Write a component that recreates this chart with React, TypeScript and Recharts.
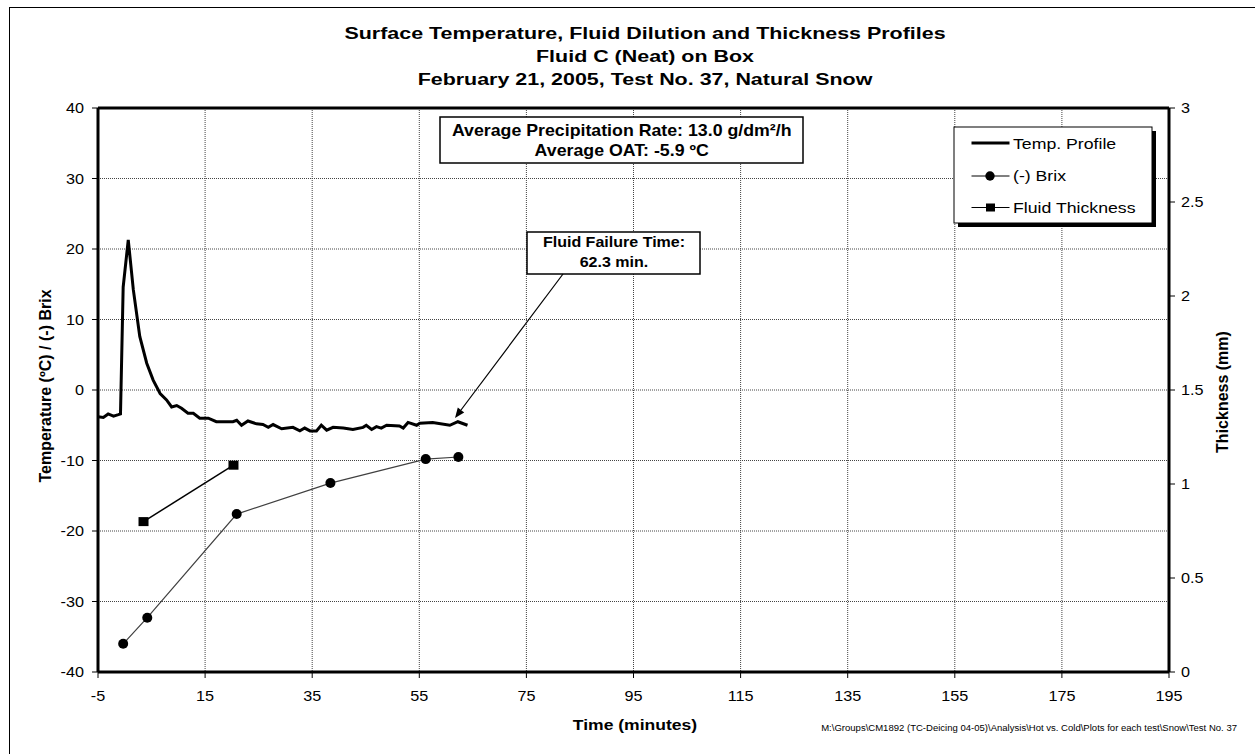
import React from "react";
import {
  ComposedChart,
  Line,
  XAxis,
  YAxis,
  CartesianGrid,
  ReferenceLine,
} from "recharts";

// ---- Data ----
const tempTimes = [
  -5, -4, -3.1, -2.1, -1.2, -0.8, -0.3, 0.65, 1.6, 2.8, 4.1, 5.3, 6.6, 7.8, 8.75,
  9.7, 10.6, 11.8, 12.8, 14.0, 15.6, 17.1, 20.2, 20.9, 21.8, 23.0, 24.6, 25.8,
  26.8, 27.7, 29.3, 31.4, 32.7, 33.6, 34.6, 35.8, 36.7, 37.7, 38.9, 40.8, 42.6,
  44.5, 45.1, 46.1, 47.0, 47.9, 48.9, 51.3, 52.0, 52.9, 54.5, 55.1, 57.5, 60.7,
  62.2, 64.0,
];
const tempValues = [
  -3.8, -3.9, -3.4, -3.7, -3.5, -3.4, 14.6, 21.3, 14.2, 7.6, 3.8, 1.4, -0.5, -1.4,
  -2.4, -2.2, -2.6, -3.3, -3.3, -4.0, -4.0, -4.5, -4.5, -4.3, -5.0, -4.4, -4.8,
  -4.9, -5.3, -4.9, -5.5, -5.3, -5.8, -5.4, -5.8, -5.8, -5.0, -5.7, -5.3, -5.4,
  -5.6, -5.3, -5.0, -5.6, -5.2, -5.4, -5.0, -5.1, -5.4, -4.6, -5.0, -4.7, -4.6,
  -5.0, -4.5, -5.0,
];

const brixTimes = [-0.3, 4.2, 20.9, 38.4, 56.2, 62.3];
const brixValues = [-36.0, -32.3, -17.6, -13.2, -9.8, -9.5];

const thickTimes = [3.5, 20.3];
const thickValues = [0.8, 1.1];

const xTicks = [-5, 15, 35, 55, 75, 95, 115, 135, 155, 175, 195];
const leftTicks = [-40, -30, -20, -10, 0, 10, 20, 30, 40];
const rightTicks = [0, 0.5, 1, 1.5, 2, 2.5, 3];

const titleLines = [
  "Surface Temperature, Fluid Dilution and Thickness Profiles",
  "Fluid C (Neat) on Box",
  "February 21, 2005, Test No. 37, Natural Snow",
];
const precipLines = ["Average Precipitation Rate: 13.0 g/dm²/h", "Average OAT: -5.9 ºC"];
const failureLines = ["Fluid Failure Time:", "62.3 min."];
const legendLabels = ["Temp. Profile", "(-) Brix", "Fluid Thickness"];
const footerText =
  "M:\\Groups\\CM1892 (TC-Deicing 04-05)\\Analysis\\Hot vs. Cold\\Plots for each test\\Snow\\Test No. 37";

const tempData = tempTimes.map((t, i) => ({ t, v: tempValues[i] }));
const brixData = brixTimes.map((t, i) => ({ t, v: brixValues[i] }));
const thickData = thickTimes.map((t, i) => ({ t, v: thickValues[i] }));

const FONT = "'Liberation Sans', Arial, Helvetica, sans-serif";

type STextProps = {
  x: number;
  y: number;
  sx?: number;
  size: number;
  bold?: boolean;
  anchor?: "start" | "middle" | "end";
  children: React.ReactNode;
};
const SText = ({ x, y, sx = 1, size, bold, anchor = "start", children }: STextProps) => (
  <text
    transform={`translate(${x},${y}) scale(${sx},1)`}
    textAnchor={anchor}
    fontSize={size}
    fontWeight={bold ? "bold" : "normal"}
    fontFamily={FONT}
    fill="#000"
  >
    {children}
  </text>
);

const XTick = (props: any) => {
  const { x, y, payload } = props;
  return (
    <SText x={x} y={y + 11} sx={1.08} size={15} anchor="middle">
      {payload.value}
    </SText>
  );
};
const LeftTick = (props: any) => {
  const { x, y, payload } = props;
  return (
    <SText x={x} y={y + 5.3} sx={1.08} size={15} anchor="end">
      {payload.value}
    </SText>
  );
};
const RightTick = (props: any) => {
  const { x, y, payload } = props;
  return (
    <SText x={x} y={y + 5.3} sx={1.08} size={15} anchor="start">
      {payload.value}
    </SText>
  );
};

const SquareDot = (props: any) => {
  const { cx, cy, index } = props;
  if (cx == null || cy == null) return <g key={`sq-${index}`} />;
  return (
    <rect key={`sq-${index}`} x={cx - 5} y={cy - 4.5} width={10} height={9} fill="#000" />
  );
};

const CircleDot = (props: any) => {
  const { cx, cy, index } = props;
  if (cx == null || cy == null) return <g key={`ci-${index}`} />;
  return <circle key={`ci-${index}`} cx={cx} cy={cy} r={5} fill="#000" />;
};

export default function App() {
  return (
    <div style={{ position: "absolute", left: 0, top: 0, width: 1255, height: 754, background: "#fff" }}>
      <ComposedChart
        width={1255}
        height={754}
        margin={{ top: 108, right: 0, bottom: 52, left: 0 }}
        style={{ fontFamily: FONT }}
      >
        <CartesianGrid
          yAxisId="left"
          stroke="#444"
          strokeDasharray="1 1"
          strokeWidth={1}
          horizontalValues={leftTicks}
          verticalValues={xTicks}
        />
        <XAxis
          type="number"
          dataKey="t"
          domain={[-5, 195]}
          ticks={xTicks}
          interval={0}
          allowDataOverflow
          height={30}
          tickSize={6}
          tickMargin={12}
          tick={XTick}
          axisLine={{ stroke: "#000", strokeWidth: 3 }}
          tickLine={{ stroke: "#000" }}
        />
        <YAxis
          yAxisId="left"
          type="number"
          domain={[-40, 40]}
          ticks={leftTicks}
          interval={0}
          allowDataOverflow
          width={98}
          tickSize={6}
          tickMargin={8}
          tick={LeftTick}
          axisLine={{ stroke: "#000", strokeWidth: 3 }}
          tickLine={{ stroke: "#000" }}
        />
        <YAxis
          yAxisId="right"
          orientation="right"
          type="number"
          domain={[0, 3]}
          ticks={rightTicks}
          interval={0}
          allowDataOverflow
          width={86}
          tickSize={6}
          tickMargin={6}
          tick={RightTick}
          axisLine={{ stroke: "#000", strokeWidth: 3 }}
          tickLine={{ stroke: "#000" }}
        />
        <ReferenceLine yAxisId="left" y={40} stroke="#000" strokeWidth={3} />
        <Line
          yAxisId="left"
          data={tempData}
          dataKey="v"
          type="linear"
          stroke="#000"
          strokeWidth={3}
          dot={false}
          activeDot={false}
          isAnimationActive={false}
        />
        <Line
          yAxisId="left"
          data={brixData}
          dataKey="v"
          type="linear"
          stroke="#404040"
          strokeWidth={1.2}
          dot={CircleDot}
          activeDot={false}
          isAnimationActive={false}
        />
        <Line
          yAxisId="right"
          data={thickData}
          dataKey="v"
          type="linear"
          stroke="#000"
          strokeWidth={1.5}
          dot={SquareDot}
          activeDot={false}
          isAnimationActive={false}
        />
      </ComposedChart>

      <svg
        width={1255}
        height={754}
        style={{ position: "absolute", left: 0, top: 0, pointerEvents: "none", fontFamily: FONT }}
      >
        {/* outer border */}
        <line x1={9.5} y1={7} x2={9.5} y2={754} stroke="#000" strokeWidth={1} />
        <line x1={9} y1={7.5} x2={1255} y2={7.5} stroke="#000" strokeWidth={1} />

        {/* title */}
        {titleLines.map((s, i) => (
          <SText key={i} x={645} y={38.5 + i * 23.3} sx={1.3} size={16.5} bold anchor="middle">
            {s}
          </SText>
        ))}

        {/* axis titles */}
        <text
          x={0}
          y={0}
          transform="translate(50.5,386) rotate(-90)"
          textAnchor="middle"
          fontSize={16}
          fontWeight="bold"
          fontFamily={FONT}
        >
          Temperature (ºC) / (-) Brix
        </text>
        <text
          x={0}
          y={0}
          transform="translate(1227.5,392) rotate(-90)"
          textAnchor="middle"
          fontSize={16}
          fontWeight="bold"
          fontFamily={FONT}
        >
          Thickness (mm)
        </text>
        <SText x={635} y={730} sx={1.17} size={15} bold anchor="middle">
          Time (minutes)
        </SText>
        <SText x={1237} y={731} sx={1.06} size={9} anchor="end">
          {footerText}
        </SText>

        {/* precipitation box */}
        <rect x={440} y={117} width={363} height={46} fill="#fff" stroke="#000" strokeWidth={1.5} />
        <SText x={621.7} y={135.7} sx={1.09} size={16.3} bold anchor="middle">
          {precipLines[0]}
        </SText>
        <SText x={621.7} y={155.5} sx={1.09} size={16.3} bold anchor="middle">
          {precipLines[1]}
        </SText>

        {/* failure annotation */}
        <rect x={527} y={232} width={173} height={42} fill="#fff" stroke="#000" strokeWidth={1.5} />
        <SText x={614} y={246.7} sx={1.07} size={15} bold anchor="middle">
          {failureLines[0]}
        </SText>
        <SText x={614} y={266.7} sx={1.07} size={15} bold anchor="middle">
          {failureLines[1]}
        </SText>
        <line x1={563} y1={274} x2={461} y2={410} stroke="#000" strokeWidth={1.2} />
        <polygon points="455,418 464.2,412.4 457.8,407.6" fill="#000" />

        {/* legend */}
        <rect x={958} y={131} width={198} height={96} fill="#000" />
        <rect x={954} y={127} width={198} height={96} fill="#fff" stroke="#000" strokeWidth={1} />
        <line x1={971.5} y1={143} x2={1009.5} y2={143} stroke="#000" strokeWidth={3} />
        <SText x={1013} y={148.5} sx={1.18} size={15}>{legendLabels[0]}</SText>
        <line x1={971.5} y1={176} x2={1009.5} y2={176} stroke="#000" strokeWidth={1} />
        <circle cx={990} cy={176} r={4.7} fill="#000" />
        <SText x={1013} y={181} sx={1.18} size={15}>{legendLabels[1]}</SText>
        <line x1={971.5} y1={207.5} x2={1009.5} y2={207.5} stroke="#000" strokeWidth={1} />
        <rect x={986} y={203.5} width={9} height={8} fill="#000" />
        <SText x={1013} y={213} sx={1.18} size={15}>{legendLabels[2]}</SText>
      </svg>
    </div>
  );
}
